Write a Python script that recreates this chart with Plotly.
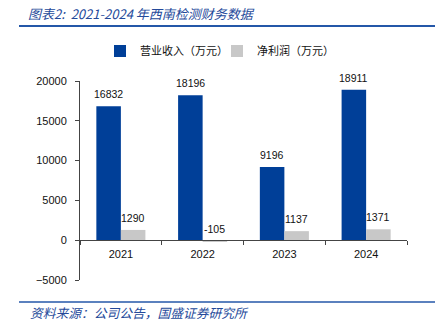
import plotly.graph_objects as go

years = ["2021", "2022", "2023", "2024"]
revenue = [16832, 18196, 9196, 18911]
profit = [1290, -105, 1137, 1371]
series_names = ["营业收入（万元）", "净利润（万元）"]
title_text = "图表2:  2021-2024 年西南检测财务数据"
source_text = "资料来源：公司公告，国盛证券研究所"

BLUE = "#003F98"
GRAY = "#C8C8C8"
TITLE_BLUE = "#24499A"
LINE_BLUE = "#2457A8"

W, H = 435, 322
L, R, T, B = 80, 28, 81, 42
PW, PH = W - L - R, H - T - B

def px_x(px):
    return (px - L) / PW

def px_y(py):
    return (H - B - py) / PH

fig = go.Figure()
fig.add_trace(go.Bar(x=years, y=revenue, name=series_names[0], marker_color=BLUE,
                     marker_line_width=0))
fig.add_trace(go.Bar(x=years, y=profit, name=series_names[1], marker_color=GRAY,
                     marker_line_width=0))

label_font = dict(family="Liberation Sans, Arial, sans-serif", size=10.5, color="#111111")
half = PW / len(years) * (1 - 0.40) / 4
for vals, sign in ((revenue, -1), (profit, 1)):
    for i, v in enumerate(vals):
        # category index position on the category axis
        fig.add_annotation(x=i, y=v, text=str(v), showarrow=False, xref="x", yref="y",
                           yanchor="bottom", xanchor="center", yshift=4,
                           xshift=sign * half, font=label_font)

# title line, footer line
fig.add_shape(type="line", xref="paper", yref="paper", x0=px_x(19), x1=px_x(436),
              y0=px_y(26), y1=px_y(26), line=dict(color=LINE_BLUE, width=2))
fig.add_shape(type="line", xref="paper", yref="paper", x0=px_x(19), x1=px_x(436),
              y0=px_y(302), y1=px_y(302), line=dict(color=LINE_BLUE, width=1.5))

fig.add_annotation(xref="paper", yref="paper", x=px_x(28), y=px_y(312), text=source_text,
                   showarrow=False, xanchor="left", yanchor="middle",
                   font=dict(family="Noto Sans CJK SC, sans-serif", size=12.75, color=TITLE_BLUE,
                             style="italic"))

fig.update_layout(
    width=W, height=H,
    margin=dict(l=L, r=R, t=T, b=B),
    paper_bgcolor="white", plot_bgcolor="white",
    barmode="group", bargap=0.40, bargroupgap=0,
    title=dict(text=title_text, x=28 / W, y=1 - 14 / H, xanchor="left", yanchor="middle",
               xref="container", yref="container",
               font=dict(family="Noto Sans CJK SC, sans-serif", size=13, color=TITLE_BLUE,
                         style="italic")),
    legend=dict(orientation="h", x=px_x(217), y=px_y(51), xanchor="center", yanchor="middle",
                font=dict(family="Noto Sans CJK SC, sans-serif", size=11, color="#111111"),
                itemwidth=30, entrywidth=72, bgcolor="rgba(0,0,0,0)"),
    font=dict(family="Liberation Sans, Arial, sans-serif", size=11, color="#111111"),
)

fig.update_yaxes(range=[-5000, 20000], tickvals=[-5000, 0, 5000, 10000, 15000, 20000],
                 tickformat="d",
                 showgrid=False, zeroline=False, showline=True, linecolor="#444444",
                 linewidth=1, ticks="outside", ticklen=4, tickcolor="#444444",
                 ticklabelstandoff=6, tickfont=dict(size=11))
fig.update_xaxes(type="category", range=[-0.5, len(years) - 0.5], anchor="free",
                 position=0.2, showline=True, linecolor="#444444", linewidth=1,
                 ticks="outside", tickson="boundaries", ticklen=4, tickcolor="#444444",
                 showgrid=False, ticklabelstandoff=4, tickfont=dict(size=11))

fig.write_html("out.html")
